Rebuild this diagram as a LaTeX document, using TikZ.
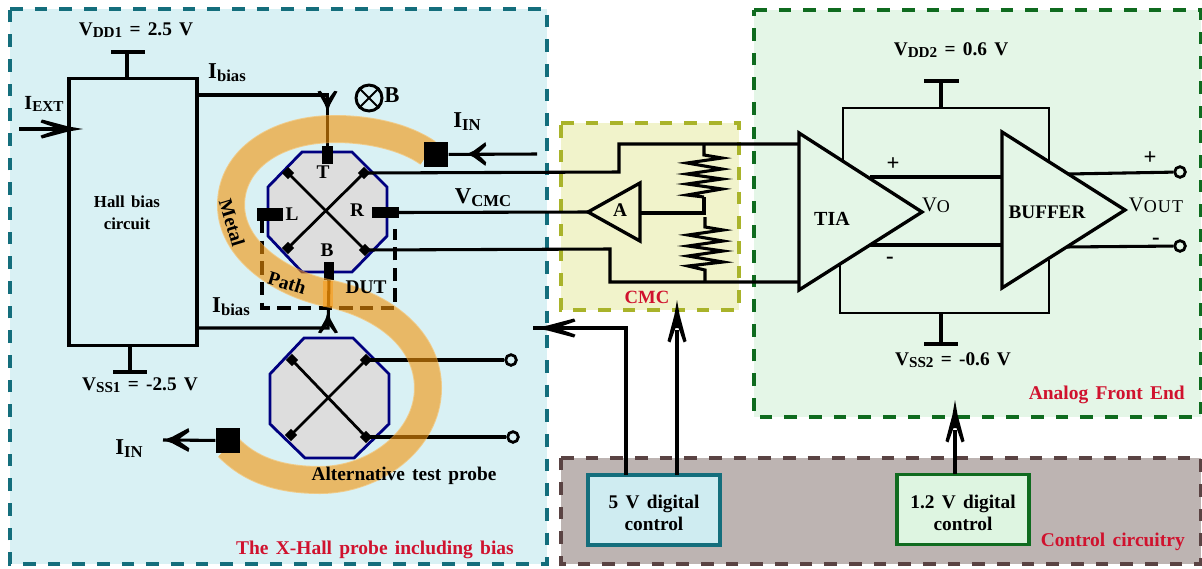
\documentclass[tikz,border=0pt]{standalone}
\usepackage{fontspec}
\setmainfont[WordSpace={1.5}]{Liberation Serif}
\usetikzlibrary{calc}
\definecolor{tealc}{HTML}{146E7C}
\definecolor{tealf}{HTML}{D9F1F4}
\definecolor{greenc}{HTML}{0F6B1F}
\definecolor{greenf}{HTML}{E4F6E7}
\definecolor{cmcc}{HTML}{A9B32A}
\definecolor{cmcf}{HTML}{F1F3CB}
\definecolor{ctlc}{HTML}{5A4343}
\definecolor{ctlf}{HTML}{BDB4B2}
\definecolor{redc}{HTML}{D0122E}
\definecolor{metalc}{HTML}{F29208}
\definecolor{metale}{HTML}{FFB446}
\definecolor{octf}{HTML}{DDDDDD}
\definecolor{octc}{HTML}{00007F}
\definecolor{fiveb}{HTML}{CFECF1}
\definecolor{onetwo}{HTML}{DEF5E1}
\newcommand{\sbs}[1]{\raisebox{-.3ex}{\fontsize{11.4pt}{11pt}\selectfont #1}}
\newcommand{\sbl}[1]{\raisebox{-.3ex}{\fontsize{12.5pt}{12pt}\selectfont #1}}
\newcommand{\sbv}[1]{\raisebox{-.1ex}{\fontsize{13.5pt}{12pt}\selectfont\addfontfeatures{LetterSpace=6} #1}}
\tikzset{
  region/.style={line width=2.6pt,dash pattern=on 9.5pt off 9pt},
  wire/.style={line width=2.3pt,line join=miter},
  thinwire/.style={line width=1.3pt},
  amp/.style={line width=2.5pt,line join=miter},
  tee/.style={line width=2.5pt},
  lbl/.style={font=\bfseries\fontsize{14.5pt}{16.5pt}\selectfont,inner sep=0pt,text=black},
  biglbl/.style={font=\bfseries\fontsize{17pt}{19pt}\selectfont,inner sep=0pt,text=black},
  rlbl/.style={font=\bfseries\fontsize{14.6pt}{16pt}\selectfont,inner sep=0pt,text=redc},
  vlbl/.style={font=\fontsize{15.5pt}{16pt}\selectfont,inner sep=0pt},
  octa/.style={fill=octf,draw=octc,line width=2.1pt,line join=miter},
  sq/.style={fill=black,draw=none,inner sep=0pt},
  xwire/.style={line width=2.1pt},
  term/.style={circle,draw=black,line width=2.1pt,inner sep=0pt,minimum size=8pt},
  diam/.style={fill=black,draw=none,inner sep=0pt,minimum size=6.4pt,rotate=45},
  ctlbox/.style={line width=2.3pt,minimum width=99pt,minimum height=52.5pt,align=center,lbl},
  ahead/.pic={\fill[black] (0,0) -- (-15,-2.6) -- (-41,-9.5) -- (-42.5,-6.6) -- (-28,-1.5) -- (-28,1.5) -- (-42.5,6.6) -- (-41,9.5) -- (-15,2.6) -- cycle;},
}
\begin{document}
\begin{tikzpicture}[x=0.75pt,y=-0.75pt]
\useasboundingbox (0,0) rectangle (1202,568);
% regions
\filldraw[region,draw=tealc,fill=tealf] (10,9) -- (547,9) -- (547,564) -- (10,564) -- cycle;
\filldraw[region,draw=greenc,fill=greenf] (754,10) -- (1201,10) -- (1201,417) -- (754,417) -- cycle;
\filldraw[region,draw=cmcc,fill=cmcf] (561,123) -- (739,123) -- (739,310) -- (561,310) -- cycle;
\filldraw[region,draw=ctlc,fill=ctlf] (561,458) -- (1201,458) -- (1201,564) -- (561,564) -- cycle;

% bias box
\node[draw=black,line width=2.4pt,minimum width=96pt,minimum height=200pt,inner sep=0pt] (bias) at (133,212) {};
\node[lbl,align=center,font=\bfseries\fontsize{12.6pt}{16.5pt}\selectfont] (biast) at (127,213) {Hall bias\\circuit};
\coordinate (vddA) at (127,79); \coordinate (vddB) at (127,52);
\coordinate (vddL) at (111,52); \coordinate (vddR) at (145,52);
\coordinate (vssA) at (130,345); \coordinate (vssB) at (130,372);
\coordinate (vssL) at (113,372); \coordinate (vssR) at (147,372);
\draw[tee] (vddA) -- (vddB) (vddL) -- (vddR);
\draw[tee] (vssA) -- (vssB) (vssL) -- (vssR);

% DUT dashed
\coordinate (d1) at (262,220); \coordinate (d2) at (262,308);
\coordinate (d3) at (395,308); \coordinate (d4) at (395,229);
\draw[line width=2.3pt,dash pattern=on 10pt off 5.5pt] (d1) -- (d2) -- (d3) -- (d4);

% octagons
\draw[octa] (302,152) -- (352,152) -- (387,187) -- (387,236) -- (352,272) -- (302,272) -- (268,236) -- (268,187) -- cycle;
\draw[octa] (304,338) -- (353,338) -- (389,374) -- (389,424) -- (354,458) -- (305,458) -- (270,424) -- (270,374) -- cycle;

% upper cross
\node[diam] (ua) at (288,173) {};
\node[diam] (ub) at (364,173) {};
\node[diam] (uc) at (288,248) {};
\node[diam] (ud) at (365,250) {};
\draw[xwire] (ua.center) -- (ud.center) (ub.center) -- (uc.center);
% lower cross
\node[diam] (la) at (292,360) {};
\node[diam] (lb) at (366,360) {};
\node[diam] (lc) at (291,435) {};
\node[diam] (ld) at (366,437) {};
\draw[xwire] (la.center) -- (ld.center) (lb.center) -- (lc.center);

% contact stubs
\node[sq,minimum width=8.2pt,minimum height=13.5pt] (T) at (327.5,155) {};
\node[sq,minimum width=7.8pt,minimum height=13.5pt] (Bc) at (329,271) {};
\node[sq,minimum width=19.5pt,minimum height=9.8pt] (Lc) at (270,214.5) {};
\node[sq,minimum width=20pt,minimum height=8.6pt] (Rc) at (385.5,212.5) {};

% bias wires
\coordinate (t0) at (327.5,95); \coordinate (b0) at (328,328);
\draw[wire] (bias.east |- t0) -- (t0) -- (T.north);
\draw[wire] (bias.east |- b0) -- (b0) -- (Bc.south);

% lower probe wires
\node[term,fill=tealf] (o1) at (511,360) {};
\node[term,fill=tealf] (o2) at (513,437) {};
\draw[wire] (lb.center) -- (o1);
\draw[wire] (ld.center) -- (o2);

% metal path
\begin{scope}[transparency group,opacity=0.6]
\def\metalpath{(428,153) .. controls (405,137) and (370,129) .. (335,129) .. controls (275,129) and (231,160) .. (231,205) .. controls (231,250) and (280,283) .. (327,293) .. controls (385,305) and (428,340) .. (428,388) .. controls (428,440) and (375,480) .. (320,480) .. controls (280,480) and (250,470) .. (228,447)}
\draw[draw=metale,line width=21pt] \metalpath;
\draw[draw=metalc,line width=19.6pt] \metalpath;
\end{scope}
\fill[orange!85!yellow,opacity=.45] (323,281) rectangle (333,307);
\node[sq,minimum size=18.5pt] (sqA) at (436,154.5) {};
\node[sq,minimum size=18.5pt] (sqB) at (228,440.5) {};

% arrows on metal feed
\coordinate (inA) at (537,154); \coordinate (inAt) at (467,154);
\draw[wire] (inA) -- (sqA);
\pic[rotate=180,xscale=.45,yscale=1.25] at (inAt) {ahead};
\coordinate (inB) at (163,440);
\draw[wire] (sqB) -- (inB);
\pic[rotate=180,xscale=.62,yscale=1.25] at (inB) {ahead};

% arrows on bias wires and I_EXT
\coordinate (a1) at (327.5,112); \pic[rotate=-90,xscale=.5,yscale=1.05] at (a1) {ahead};
\coordinate (a2) at (328,312); \pic[rotate=90,xscale=.5,yscale=1.05] at (a2) {ahead};
\coordinate (ext0) at (19,129); \coordinate (ext1) at (83,129);
\draw[wire] (ext0) -- (60,129);
\pic at (ext1) {ahead};

% wires probe - CMC
\coordinate (w1a) at (619,172); \coordinate (w1b) at (619,144);
\coordinate (w2a) at (610,249); \coordinate (w2b) at (610,282);
\coordinate (rt) at (704,144); \coordinate (rb) at (705,282);
\coordinate (tiaIn1) at (799,144); \coordinate (tiaIn2) at (799,282);
\draw[wire] (ub.center) -- (w1a) -- (w1b) -- (tiaIn1);
\draw[wire] (ud.center) -- (w2a) -- (w2b) -- (tiaIn2);
\coordinate (ampA) at (588,212);
\draw[wire] (Rc.east) -- (ampA);

% amp A
\draw[amp,fill=cmcf] (ampA) -- (640,183) -- (640,241) -- cycle;
\node[lbl] (Al) at (620,210) {A};
\coordinate (mid) at (704,213); \coordinate (ampO) at (640,213);
\draw[wire] (ampO) -- (mid) -- (704,197);
\draw[wire,line join=miter] (rt) -- (704,155) -- (722,158) -- (687,163) -- (722,169) -- (687,174) -- (722,179) -- (687,184) -- (722,189) -- (687,195) -- (704,197);
\draw[wire] (705,217) -- (705,227) -- (723,230) -- (688,235) -- (723,241) -- (688,246) -- (723,251) -- (688,256) -- (723,262) -- (688,266) -- (705,270) -- (rb);

% supply rectangle
\draw[thinwire] (843,160) -- (843,108) -- (1049,108) -- (1049,170);
\draw[thinwire] (840,260) -- (840,313) -- (1049,313) -- (1049,260);
\coordinate (v2a) at (941,108); \coordinate (v2b) at (941,81);
\draw[tee] (v2a) -- (v2b) (924,81) -- (959,81);
\coordinate (v3a) at (941,313); \coordinate (v3b) at (941,344);
\draw[tee] (v3a) -- (v3b) (924,344) -- (958,344);

% TIA/Buffer connections
\coordinate (p1) at (870,177); \coordinate (p2) at (1002,177);
\coordinate (m1) at (868,245); \coordinate (m2) at (1002,245);
\draw[wire] (p1) -- (p2); \draw[wire] (m1) -- (m2);
\node[term,fill=greenf] (outP) at (1180,172) {};
\node[term,fill=greenf] (outM) at (1180,246) {};
\draw[wire] (1068,174) -- (outP);
\draw[wire] (1065,247) -- (outM);

% amps
\draw[amp,fill=greenf] (799,133) -- (922,212) -- (799,290) -- cycle;
\draw[amp,fill=greenf] (1002,132) -- (1125,210) -- (1002,288) -- cycle;

% control boxes
\node[ctlbox,draw=tealc,fill=fiveb] (c5) at (654,510) {\rule{0pt}{14.5pt}5 V digital\\control};
\node[ctlbox,draw=greenc,fill=onetwo] (c12) at (963,509.5) {\rule{0pt}{14.5pt}1.2 V digital\\control};
\coordinate (c5a) at (626,475); \coordinate (c5b) at (626,328); \coordinate (c5t) at (533,328);
\coordinate (c6a) at (677,475); \coordinate (c6t) at (677,300);
\coordinate (c7a) at (955,474); \coordinate (c7t) at (955,400);
\draw[wire] (c5a) -- (c5b) -- (c5t);
\pic[rotate=180] at (c5t) {ahead};
\draw[wire] (c6a) -- (677,330);
\pic[rotate=90] at (c6t) {ahead};
\draw[wire] (c7a) -- (955,430);
\pic[rotate=90] at (c7t) {ahead};

% B symbol
\node[circle,draw=black,line width=2.2pt,minimum size=19.5pt,inner sep=0pt] (Bsym) at (369,98) {};
\draw[line width=1.5pt] (Bsym.45) -- (Bsym.225) (Bsym.135) -- (Bsym.315);
\node[biglbl] (Bl) at (392,95) {B};

% labels
\node[lbl] (l1) at (136,30) {V\sbs{DD1} = 2.5 V};
\node[lbl] (l2) at (140,385) {V\sbs{SS1} = -2.5 V};
\node[lbl,font=\bfseries\fontsize{15pt}{16pt}\selectfont] (l3) at (44,104) {I\sbs{EXT}};
\node[biglbl] (l4) at (227,73) {I\sbl{bias}};
\node[biglbl] (l5) at (231,307) {I\sbl{bias}};
\node[biglbl] (l6) at (467,122) {I\sbl{IN}};
\node[biglbl] (l7) at (129,449) {I\sbl{IN}};
\node[biglbl] (l8) at (483,198) {V\sbl{CMC}};
\node[lbl] (lT) at (323,172) {T};
\node[lbl] (lL) at (292,214) {L};
\node[lbl] (lR) at (357,210) {R};
\node[lbl] (lB) at (327,250) {B};
\node[lbl] (lD) at (366,287) {DUT};
\node[lbl,rotate=-73] (lM) at (232,223) {Metal};
\node[lbl,rotate=-17] (lP) at (287,283) {Path};
\node[lbl] (lAlt) at (404,476) {Alternative test probe};
\node[rlbl,anchor=east] (r1) at (514,550) {The X-Hall probe including bias};
\node[rlbl,font=\bfseries\fontsize{14pt}{16pt}\selectfont] (r2) at (647,297) {CMC};
\node[rlbl,anchor=east] (r3) at (1185,395) {Analog Front End};
\node[rlbl,anchor=east] (r4) at (1185,542) {Control circuitry};
\node[lbl] (l9) at (951,50) {V\sbs{DD2} = 0.6 V};
\node[lbl] (l10) at (953,360) {V\sbs{SS2} = -0.6 V};
\node[lbl,font=\bfseries\fontsize{15pt}{16pt}\selectfont] (lTIA) at (832,219) {TIA};
\node[lbl,font=\bfseries\fontsize{14.4pt}{16pt}\selectfont] (lBuf) at (1047,212) {BUFFER};
\node[vlbl] (lVo) at (936,205) {V\sbv{O}};
\node[vlbl] (lVout) at (1156,205) {V\sbv{OUT}};
\node[biglbl] (pl1) at (893,164) {+};
\node[biglbl] (mi1) at (890,260) {-};
\node[biglbl] (pl2) at (1150,158) {+};
\node[biglbl] (mi2) at (1156,241) {-};
\end{tikzpicture}
\end{document}
